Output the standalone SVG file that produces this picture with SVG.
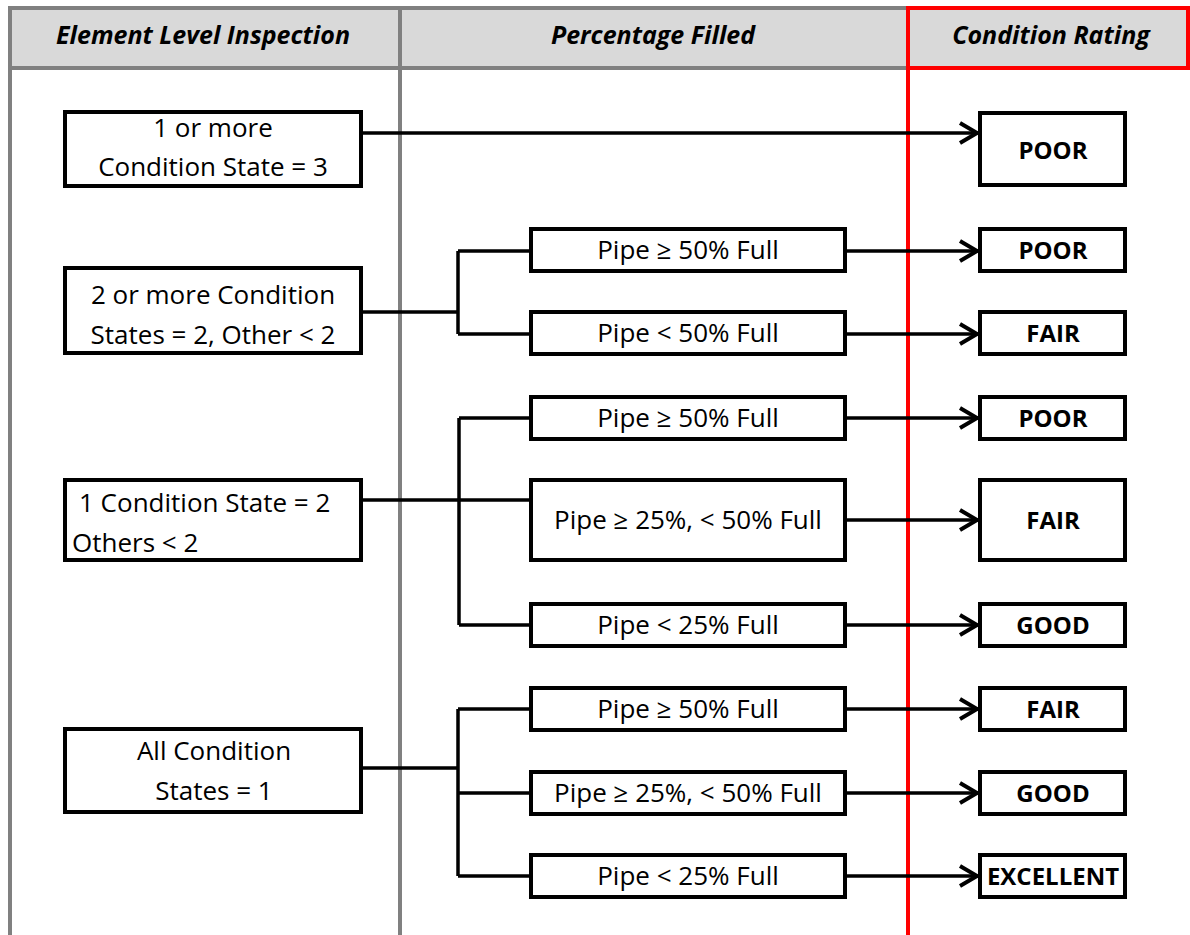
<svg xmlns="http://www.w3.org/2000/svg" width="1190" height="935" viewBox="0 0 1190 935">
<style>
.box{fill:#fff;stroke:#000;stroke-width:4}
.t{font-family:"Open Sans","Liberation Sans",sans-serif;font-size:26px;fill:#000;text-anchor:middle}
.s{text-anchor:start}
.b{font-family:"Open Sans","Liberation Sans",sans-serif;font-size:24px;font-weight:bold;fill:#000;text-anchor:middle}
.h{font-family:"Open Sans","Liberation Sans",sans-serif;font-size:25px;font-weight:bold;font-style:italic;fill:#000;text-anchor:middle}
.gl{stroke:#808080;stroke-width:4;fill:none}
.rl{stroke:#ff0000;stroke-width:4;fill:none}
.c{stroke:#000;stroke-width:3.5;fill:none}
.a{stroke:#000;stroke-width:3.5;fill:none;marker-end:url(#arr)}
</style>
<defs>
<marker id="arr" markerUnits="userSpaceOnUse" markerWidth="24" markerHeight="24" viewBox="0 0 24 24" refX="21" refY="12" orient="auto">
<path d="M3,2 L20,12 L3,22" fill="none" stroke="#000" stroke-width="4"/>
</marker>
</defs>
<rect width="1190" height="935" fill="#fff"/>
<g id="header">
<rect x="10" y="8" width="1178" height="60" fill="#d9d9d9"/>
<path class="gl" d="M8,8 H908 M8,68 H908 M10,6 V935 M400,6 V935"/>
<path class="rl" d="M908,8 H1188 V68 H908 Z M908,68 V935"/>
<text class="h" x="203" y="44">Element Level Inspection</text>
<text class="h" x="653" y="44">Percentage Filled</text>
<text class="h" x="1051" y="44">Condition Rating</text>
</g>
<g id="n1"><rect class="box" x="65" y="112" width="296" height="74"/><text class="t" x="213" y="137">1 or more</text><text class="t" x="213" y="176">Condition State = 3</text></g>
<g id="n2"><rect class="box" x="65" y="268" width="296" height="85"/><text class="t" x="213" y="304">2 or more Condition</text><text class="t" x="213" y="344">States = 2, Other &lt; 2</text></g>
<g id="n3"><rect class="box" x="65" y="480" width="296" height="80"/><text class="t s" x="79" y="512">1 Condition State = 2</text><text class="t s" x="72" y="552">Others &lt; 2</text></g>
<g id="n4"><rect class="box" x="65" y="729" width="296" height="83"/><text class="t" x="214" y="760">All Condition</text><text class="t" x="214" y="800">States = 1</text></g>
<g id="pA"><rect class="box" x="531" y="229" width="314" height="42"/><text class="t" x="688" y="259">Pipe ≥ 50% Full</text></g>
<g id="pB"><rect class="box" x="531" y="312" width="314" height="42"/><text class="t" x="688" y="342">Pipe &lt; 50% Full</text></g>
<g id="pC"><rect class="box" x="531" y="397" width="314" height="42"/><text class="t" x="688" y="427">Pipe ≥ 50% Full</text></g>
<g id="pD"><rect class="box" x="531" y="480" width="314" height="80"/><text class="t" x="688" y="529">Pipe ≥ 25%, &lt; 50% Full</text></g>
<g id="pE"><rect class="box" x="531" y="604" width="314" height="42"/><text class="t" x="688" y="634">Pipe &lt; 25% Full</text></g>
<g id="pF"><rect class="box" x="531" y="688" width="314" height="42"/><text class="t" x="688" y="718">Pipe ≥ 50% Full</text></g>
<g id="pG"><rect class="box" x="531" y="772" width="314" height="42"/><text class="t" x="688" y="802">Pipe ≥ 25%, &lt; 50% Full</text></g>
<g id="pH"><rect class="box" x="531" y="855" width="314" height="42"/><text class="t" x="688" y="885">Pipe &lt; 25% Full</text></g>
<g id="r1"><rect class="box" x="980" y="113" width="145" height="72"/><text class="b" x="1053" y="159">POOR</text></g>
<g id="rA"><rect class="box" x="980" y="229" width="145" height="42"/><text class="b" x="1053" y="259">POOR</text></g>
<g id="rB"><rect class="box" x="980" y="312" width="145" height="42"/><text class="b" x="1053" y="342">FAIR</text></g>
<g id="rC"><rect class="box" x="980" y="397" width="145" height="42"/><text class="b" x="1053" y="427">POOR</text></g>
<g id="rD"><rect class="box" x="980" y="480" width="145" height="80"/><text class="b" x="1053" y="529">FAIR</text></g>
<g id="rE"><rect class="box" x="980" y="604" width="145" height="42"/><text class="b" x="1053" y="634">GOOD</text></g>
<g id="rF"><rect class="box" x="980" y="688" width="145" height="42"/><text class="b" x="1053" y="718">FAIR</text></g>
<g id="rG"><rect class="box" x="980" y="772" width="145" height="42"/><text class="b" x="1053" y="802">GOOD</text></g>
<g id="rH"><rect class="box" x="980" y="855" width="145" height="42"/><text class="b" x="1053" y="885">EXCELLENT</text></g>
<g id="connectors">
<path class="a" d="M361,133 H978"/>
<path class="c" d="M361,312 H458 M458,251 V334 M458,251 H531 M458,334 H531"/>
<path class="c" d="M361,500 H531 M459,418 V625 M459,418 H531 M459,625 H531"/>
<path class="c" d="M361,768 H458 M458,709 V876 M458,709 H531 M458,793 H531 M458,876 H531"/>
<path class="a" d="M845,251 H978"/>
<path class="a" d="M845,334 H978"/>
<path class="a" d="M845,418 H978"/>
<path class="a" d="M845,520 H978"/>
<path class="a" d="M845,625 H978"/>
<path class="a" d="M845,709 H978"/>
<path class="a" d="M845,793 H978"/>
<path class="a" d="M845,876 H978"/>
</g>
</svg>
